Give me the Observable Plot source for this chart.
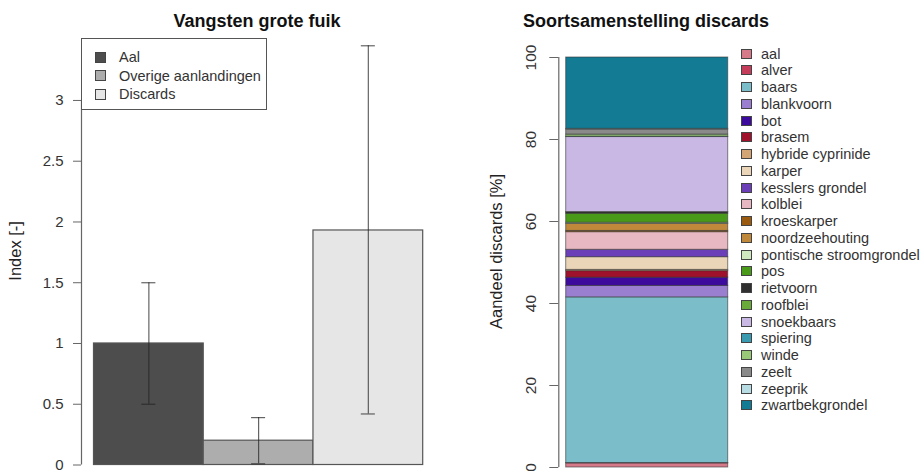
<!DOCTYPE html>
<html>
<head>
<meta charset="utf-8">
<script src="https://cdn.jsdelivr.net/npm/d3@7"></script>
<script src="https://cdn.jsdelivr.net/npm/@observablehq/plot@0.6"></script>
<style>
  html, body { margin: 0; padding: 0; background: #fff; }
  #wrap { position: relative; width: 922px; height: 471px; overflow: hidden; font-family: "Liberation Sans", Arial, sans-serif; color: #222; }
  #wrap svg { position: absolute; top: 0; overflow: visible; }
  .title { position: absolute; font-weight: bold; font-size: 18px; line-height: 18px; white-space: nowrap; transform: translateX(-50%); color: #111; }
  .lg { position: absolute; color: #333; }
  .row { position: absolute; display: flex; align-items: center; white-space: nowrap; }
  .sw { box-sizing: border-box; border: 1px solid #444; flex: none; }
</style>
</head>
<body>
<div id="wrap"></div>
<script>
// ---------- Left panel data ----------
const catchCats = ["Aal", "Overige aanlandingen", "Discards"];
const catchIndex = [1.0, 0.2, 1.93];
const catchLow = [0.5, 0.01, 0.42];
const catchHigh = [1.5, 0.39, 3.45];
const catchFill = ["#4d4d4d", "#adadad", "#e6e6e6"];
const indexTicks = [0, 0.5, 1, 1.5, 2, 2.5, 3];

// ---------- Right panel data ----------
const species = ["aal", "alver", "baars", "blankvoorn", "bot", "brasem", "hybride cyprinide", "karper",
  "kesslers grondel", "kolblei", "kroeskarper", "noordzeehouting", "pontische stroomgrondel", "pos",
  "rietvoorn", "roofblei", "snoekbaars", "spiering", "winde", "zeelt", "zeeprik", "zwartbekgrondel"];
const share = [1.0, 0.1, 40.4, 2.8, 2.0, 1.6, 0.3, 3.1, 1.8, 4.3, 0.3, 1.7, 0.3, 2.2, 0.3, 0.1, 18.3, 0.1, 0.5, 1.2, 0.2, 17.4];
const speciesColors = ["#d67a8a", "#c43c5a", "#7bbdc9", "#9a7fd1", "#3d0a9e", "#a0112b", "#d4a574", "#ead5b8",
  "#6a3fb8", "#e8b8c2", "#9a5a10", "#c0883a", "#cfe8c0", "#4a9a1a", "#303030", "#6aaa3a",
  "#c9b8e4", "#3a9ab0", "#98c878", "#8a8a8a", "#b8dce4", "#137b94"];
const shareTicks = [0, 20, 40, 60, 80, 100];

const wrap = document.getElementById("wrap");
const font = "'Liberation Sans', Arial, sans-serif";

// ---------- Left plot ----------
const rowsL = catchCats.map((c, i) => ({cat: c, i, v: catchIndex[i], lo: catchLow[i], hi: catchHigh[i]}));
const cap = 0.064;
const leftAxisX = -(93.5 - 81) / ((422.7 - 93.5) / 3);
const left = Plot.plot({
  width: 470, height: 471,
  marginLeft: 81, marginTop: 39.2, marginBottom: 6.5, marginRight: 40,
  style: {fontFamily: font, fontSize: "15px", color: "#333", background: "transparent"},
  x: {domain: [0, 3], range: [93.5, 422.7], axis: null},
  y: {domain: [0, 3.5], axis: null},
  marks: [
    Plot.rect(rowsL, {x1: d => d.i, x2: d => d.i + 1, y1: 0, y2: "v", fill: d => catchFill[d.i], stroke: "#555", strokeWidth: 1.2}),
    Plot.ruleX(rowsL, {x: d => d.i + 0.5, y1: "lo", y2: "hi", stroke: "#222", strokeOpacity: 0.7, strokeWidth: 1.2}),
    Plot.ruleY(rowsL, {y: "lo", x1: d => d.i + 0.5 - cap, x2: d => d.i + 0.5 + cap, stroke: "#222", strokeOpacity: 0.7, strokeWidth: 1.2}),
    Plot.ruleY(rowsL, {y: "hi", x1: d => d.i + 0.5 - cap, x2: d => d.i + 0.5 + cap, stroke: "#222", strokeOpacity: 0.7, strokeWidth: 1.2}),
    Plot.ruleX([leftAxisX], {y1: 0, y2: 3, stroke: "#666", strokeWidth: 1.2}),
    Plot.axisY({ticks: indexTicks, tickSize: 8, tickPadding: 10, tickFormat: d => String(d), stroke: "#666", fill: "#333", label: null}),
    Plot.text(["Index [-]"], {frameAnchor: "left", textAnchor: "middle", rotate: -90, dx: -66, dy: -1.5, fontSize: 16.5, fill: "#222"})
  ]
});
left.style.left = "0px";
wrap.appendChild(left);

// ---------- Right plot ----------
const rowsR = species.map((s, i) => ({sp: s, v: share[i]}));
const rightAxisX = -(95.7 - 88.3) / (257.7 - 95.7);
const right = Plot.plot({
  width: 452, height: 471,
  marginLeft: 88.3, marginTop: 57, marginBottom: 4, marginRight: 150,
  style: {fontFamily: font, fontSize: "15px", color: "#333", background: "transparent"},
  x: {domain: [0, 1], range: [95.7, 257.7], axis: null},
  y: {domain: [0, 100], axis: null},
  color: {domain: species, range: speciesColors},
  marks: [
    Plot.rectY(rowsR, {x1: 0, x2: 1, y: "v", fill: "sp", stroke: "#333", strokeOpacity: 0.6, strokeWidth: 1}),
    Plot.ruleX([rightAxisX], {y1: 0, y2: 100, stroke: "#666", strokeWidth: 1.2}),
    Plot.axisY({ticks: shareTicks, tickSize: 9, tickFormat: () => "", stroke: "#666", label: null}),
    Plot.text(shareTicks, {y: d => d, text: d => String(d), frameAnchor: "left", textAnchor: "middle", rotate: -90, dx: -27.3, fontSize: 15.5, fill: "#333"}),
    Plot.text(["Aandeel discards [%]"], {frameAnchor: "left", textAnchor: "middle", rotate: -90, dx: -62.3, dy: -11, fontSize: 16.5, fill: "#222"})
  ]
});
right.style.left = "470px";
wrap.appendChild(right);

// ---------- Titles ----------
function addTitle(text, cx, top) {
  const t = document.createElement("div");
  t.className = "title";
  t.textContent = text;
  t.style.left = cx + "px";
  t.style.top = top + "px";
  wrap.appendChild(t);
}
addTitle("Vangsten grote fuik", 257, 12);
addTitle("Soortsamenstelling discards", 646, 12);

// ---------- Left legend (boxed) ----------
const box = document.createElement("div");
box.style.cssText = "position:absolute;left:81px;top:38px;width:186px;height:72px;box-sizing:border-box;border:1.5px solid #555;background:#fff;";
wrap.appendChild(box);
catchCats.forEach((c, i) => {
  const r = document.createElement("div");
  r.className = "row lg";
  r.style.fontSize = "14.5px";
  r.style.left = "95px";
  r.style.top = (57 + i * 18.5 - 9) + "px";
  r.style.height = "18px";
  r.innerHTML = `<span class="sw" style="width:11px;height:11px;background:${catchFill[i]}"></span><span style="margin-left:13px">${c}</span>`;
  wrap.appendChild(r);
});

// ---------- Right legend ----------
species.forEach((s, i) => {
  const r = document.createElement("div");
  r.className = "row lg";
  r.style.fontSize = "14.5px";
  r.style.left = "740.5px";
  r.style.top = (53.5 + i * 16.75 - 8) + "px";
  r.style.height = "16px";
  r.innerHTML = `<span class="sw" style="width:11px;height:10px;background:${speciesColors[i]}"></span><span style="margin-left:9.5px">${s}</span>`;
  wrap.appendChild(r);
});
</script>
</body>
</html>
